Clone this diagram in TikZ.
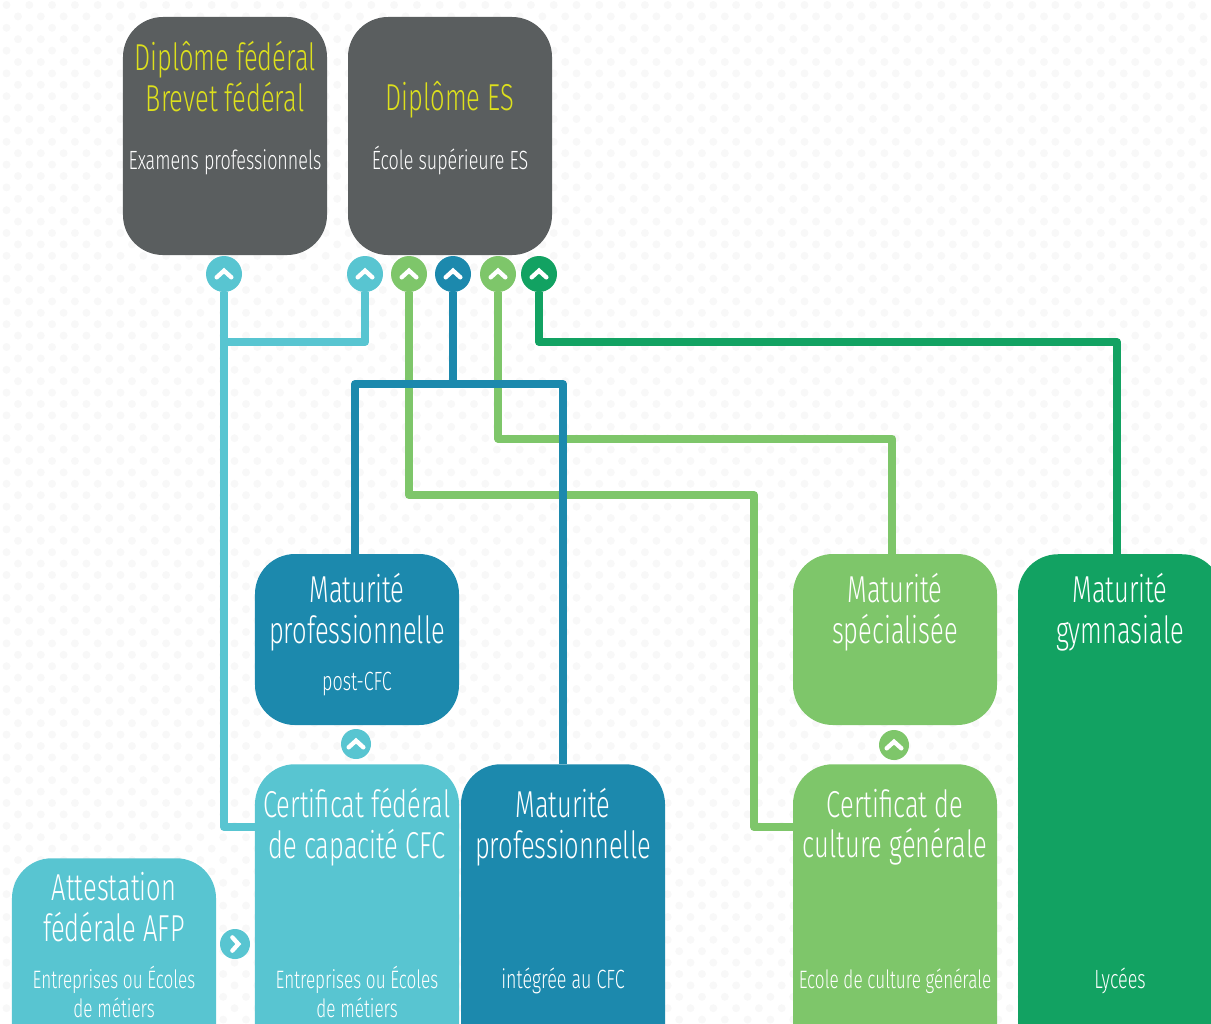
\documentclass[tikz,border=0pt]{standalone}
\usepackage{fontspec}
\setmainfont{Fira Sans Light}[FakeStretch=0.68]
\definecolor{cfccyan}{HTML}{58C5D1}
\definecolor{mpteal}{HTML}{1C89AD}
\definecolor{ccgreen}{HTML}{7EC66A}
\definecolor{gymgreen}{HTML}{12A262}
\definecolor{topgray}{HTML}{5A5E5F}
\definecolor{topyellow}{HTML}{DDE01C}
\definecolor{dotgray}{HTML}{F8F8F8}
\tikzset{
  pathbox/.style={rectangle, rounded corners=1.2cm, fill=#1, minimum width=6.12cm, inner sep=0pt},
  titletext/.style={text=#1, align=center, inner sep=0pt, font=\fontsize{32}{34.5}\selectfont},
  titletext/.default=white,
  subtext/.style={text=white, align=center, inner sep=0pt, font=\fontsize{22.5}{24.7}\selectfont},
  schooltext/.style={subtext, font=\fontsize{21.5}{24.7}\selectfont},
  upbadge/.style={circle, fill=#1, minimum size=1.08cm, inner sep=0pt, path picture={
    \draw[white, line width=0.13cm, line cap=round, line join=miter] (path picture bounding box.center) ++(-0.22cm,-0.1cm) -- ++(0.22cm,0.2cm) -- ++(0.22cm,-0.2cm);}},
  smallup/.style={upbadge=#1, minimum size=0.9cm},
  pathline/.style={draw=#1, line width=0.24cm, line join=round}
}
\begin{document}
\begin{tikzpicture}[x=0.03cm,y=-0.03cm]
\useasboundingbox (0,0) rectangle (1211,1023);
\clip (0,0) rectangle (1211,1023);
% Faint dots on the background
\foreach \k in {0,2,...,90} {
  \foreach \i in {0,...,53} {
    \fill[dotgray] (6.5+22.8*\i, 5+11.4*\k) circle (4);
    \fill[dotgray] (18+22.8*\i, 16.4+11.4*\k) circle (4);
  }
}
% Top boxes
\node[pathbox=topgray, minimum height=7.14cm] (dipfed) at (225,136) {};
\node[pathbox=topgray, minimum height=7.14cm] (dipes) at (450,136) {};
% Middle boxes
\node[pathbox=mpteal, minimum height=5.13cm] (matpost) at (357,639.5) {};
\node[pathbox=ccgreen, minimum height=5.13cm] (matspec) at (895,639.5) {};
\node[pathbox=gymgreen, minimum height=16cm, anchor=north] (matgym) at (1120,554) {};
% Bottom boxes
\node[pathbox=cfccyan, minimum height=10cm, anchor=north] (cfc) at (357,764) {};
\node[pathbox=mpteal, minimum height=10cm, anchor=north] (matint) at (563,764) {};
\node[pathbox=ccgreen, minimum height=10cm, anchor=north] (ccg) at (895,764) {};
\node[pathbox=cfccyan, minimum height=10cm, anchor=north] (afp) at (114,858) {};
% Badges under the top boxes
\node[upbadge=cfccyan] (upa) at (224,274) {};
\node[upbadge=cfccyan] (upb) at (365,274) {};
\node[upbadge=ccgreen] (upc) at (409,274) {};
\node[upbadge=mpteal] (upd) at (453,274) {};
\node[upbadge=ccgreen] (upe) at (498,274) {};
\node[upbadge=gymgreen] (upf) at (539,274) {};
% Small badges between the boxes
\node[smallup=cfccyan] (upcfc) at (356,744) {};
\node[smallup=ccgreen] (upccg) at (894,745) {};
\node[circle, fill=cfccyan, minimum size=0.9cm, inner sep=0pt, path picture={
  \draw[white, line width=0.13cm, line cap=round] (path picture bounding box.center) ++(-0.08cm,-0.2cm) -- ++(0.18cm,0.2cm) -- ++(-0.18cm,0.2cm);}] (rightafp) at (235,944) {};
% Bends of the connectors
\coordinate (cyanjoin) at (224,342);
\coordinate (cfcin) at (255,827);
\coordinate (tealjoin) at (453,384);
\coordinate (postin) at (355,554);
\coordinate (intin) at (563,764);
\coordinate (ccgin) at (793,827);
\coordinate (ccgbend) at (754,495);
\coordinate (specin) at (892,554);
\coordinate (specbend) at (892,438.5);
\coordinate (gymin) at (1117,554);
\coordinate (gymbend) at (1117,342);
% Connectors
\draw[pathline=ccgreen] (upc.south) |- (ccgbend) -- (ccgbend |- ccgin) -- (ccgin);
\draw[pathline=ccgreen] (upe.south) |- (specbend) -- (specin);
\draw[pathline=gymgreen] (upf.south) |- (gymbend) -- (gymin);
\draw[pathline=mpteal] (upd.south) -- (tealjoin);
\draw[pathline=mpteal] (postin) |- (tealjoin) -| (intin);
\draw[pathline=cfccyan] (upa.south) |- (cfcin);
\draw[pathline=cfccyan] (upb.south) |- (cyanjoin);
% Texts of the top boxes
\node[titletext=topyellow] (dipfedtitle) at (225,76.5) {Diplôme fédéral\\Brevet fédéral};
\node[subtext] (dipfedsub) at (225,162) {Examens professionnels};
\node[titletext=topyellow] (dipestitle) at (450,100) {Diplôme ES};
\node[subtext] (dipessub) at (450,160) {École supérieure ES};
% Texts of the middle boxes
\node[titletext] (matposttitle) at (357,612) {Maturité\\professionnelle};
\node[subtext] (matpostsub) at (357,684) {post-CFC};
\node[titletext] (matspectitle) at (895,612) {Maturité\\spécialisée};
\node[titletext] (matgymtitle) at (1120,612) {Maturité\\gymnasiale};
\node[subtext] (matgymsub) at (1120,981) {Lycées};
% Texts of the bottom boxes
\node[titletext] (cfctitle) at (357,827) {Certificat fédéral\\de capacité CFC};
\node[schooltext] (cfcsub) at (357,991.5) {Entreprises ou Écoles\\de métiers};
\node[titletext] (matinttitle) at (563,827) {Maturité\\professionnelle};
\node[subtext] (matintsub) at (563,981) {intégrée au CFC};
\node[titletext] (ccgtitle) at (895,827) {Certificat de\\culture générale};
\node[schooltext] (ccgsub) at (895,981) {Ecole de culture générale};
\node[titletext] (afptitle) at (114,907) {Attestation\\fédérale AFP};
\node[schooltext] (afpsub) at (114,991.5) {Entreprises ou Écoles\\de métiers};
\end{tikzpicture}
\end{document}
